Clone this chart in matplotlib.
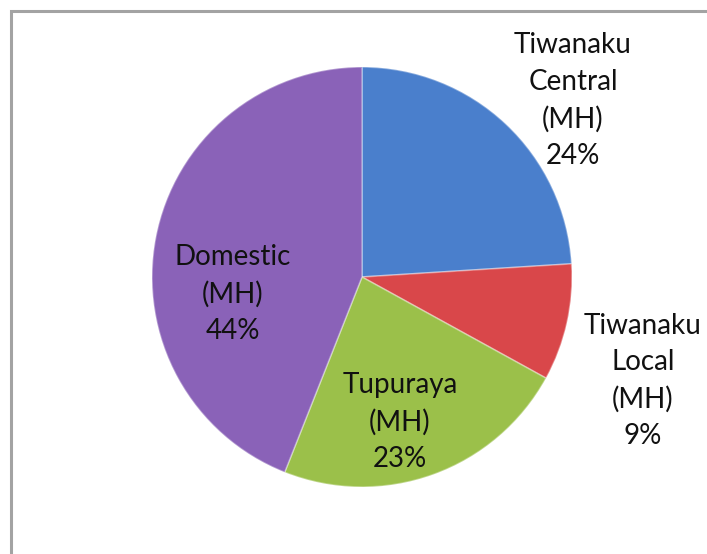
import numpy as np
import matplotlib
matplotlib.use("Agg")
import matplotlib.pyplot as plt
from matplotlib.patches import Rectangle

# slice data, clockwise from 12 o'clock
labels = ["Tiwanaku\nCentral\n(MH)", "Tiwanaku\nLocal\n(MH)", "Tupuraya\n(MH)", "Domestic\n(MH)"]
shares = [24, 9, 23, 44]
colors = ["#4a7fcc", "#d9474a", "#9bc04a", "#8a62b8"]

# label positions in pie-radius units (outside labels for the two Tiwanaku slices)
label_xy = [(1.005, 0.84), (1.338, -0.495), (0.18, -0.69), (-0.615, -0.08)]

plt.rcParams['font.family'] = ['Lato', 'DejaVu Sans']

fig = plt.figure(figsize=(7.07, 5.54), dpi=100)
ax = fig.add_axes([0, 0, 1, 1])

wedges, _ = ax.pie(shares, colors=colors, startangle=90, counterclock=False,
                   radius=1.0, center=(0, 0),
                   wedgeprops=dict(edgecolor=(1, 1, 1, 0.35), linewidth=1.2))

for lab, val, (x, y) in zip(labels, shares, label_xy):
    ax.text(x, y, f"{lab}\n{val}%", ha='center', va='center', fontsize=20,
            linespacing=1.5, color='#111111')

# axes limits so the pie sits where it does in the picture (center 362,277 px, r=210 px)
ax.set_xlim(-362 / 210, (707 - 362) / 210)
ax.set_ylim((277 - 554) / 210, 277 / 210)
ax.set_aspect('equal')
ax.axis('off')

# gray frame, right and bottom edges run off the image
fig.patches.append(Rectangle((11 / 707, -0.1), 1.2, (554 - 11) / 554 + 0.1,
                             transform=fig.transFigure, fill=False,
                             edgecolor='#a3a3a3', linewidth=2.2))

fig.savefig("out.png", dpi=100, facecolor='white')
